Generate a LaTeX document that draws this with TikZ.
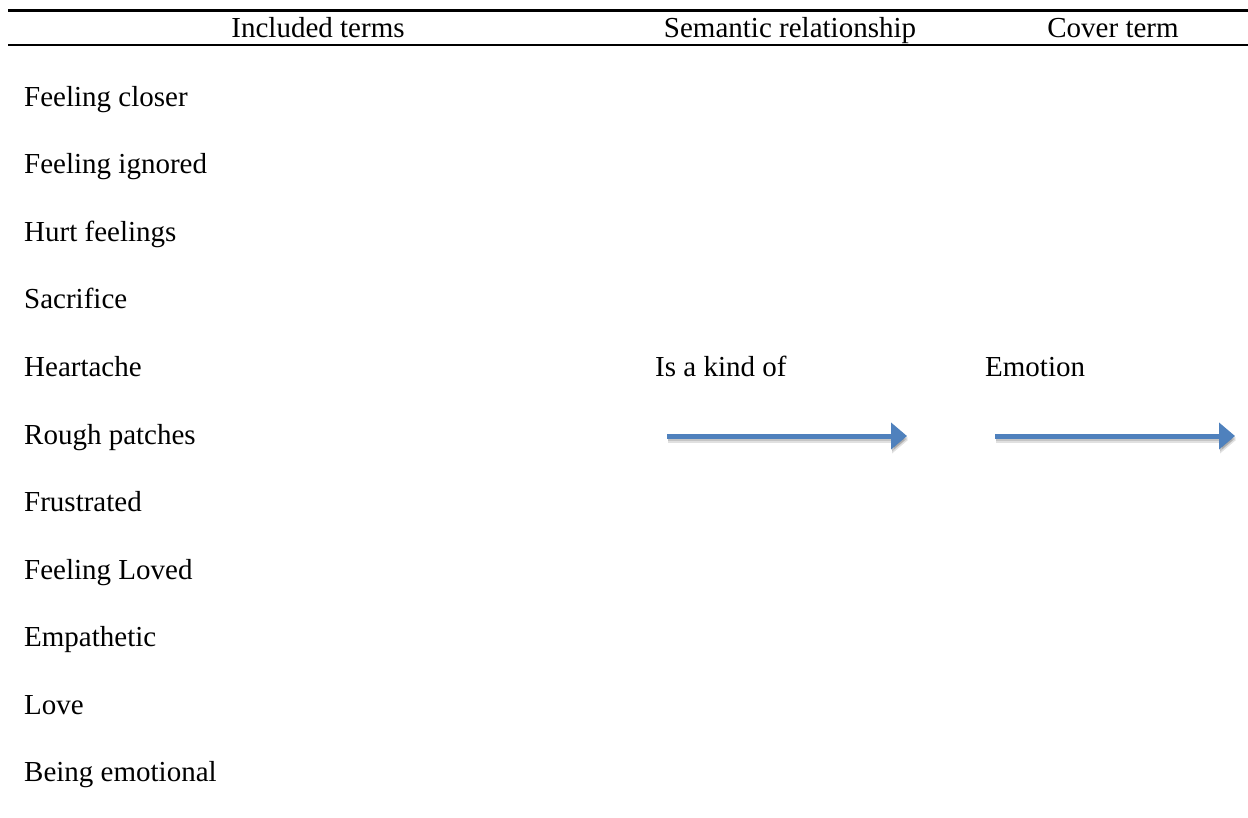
\documentclass[tikz,border=0pt]{standalone}
\usepackage{fontspec}
\setmainfont{Liberation Serif}
\usetikzlibrary{arrows.meta}
\definecolor{arrowblue}{HTML}{4F81BD}
\tikzset{
  term/.style={anchor=base west, inner sep=0pt, font=\fontsize{29}{35}\selectfont},
  head/.style={anchor=base, inner sep=0pt, font=\fontsize{29}{35}\selectfont},
  rule/.style={line width=2.6pt, black},
  bluearrow/.style={line width=5pt, arrowblue, -{Triangle[width=26pt,length=16pt]}},
  shadowarrow/.style={line width=5pt, black, opacity=0.12, -{Triangle[width=26pt,length=16pt]}}
}
\begin{document}
\begin{tikzpicture}[x=1pt,y=-1pt]
\useasboundingbox (0,0) rectangle (1248,818);
% rules
\draw[rule] (8,10.5) -- (1248,10.5);
\draw[rule] (8,45) -- (1248,45);
% headers
\node[head] (h1) at (318,37.5) {Included terms};
\node[head] (h2) at (790,37.5) {Semantic relationship};
\node[head] (h3) at (1113,37.5) {Cover term};
% terms
\foreach \t [count=\i from 0] in {Feeling closer,Feeling ignored,Hurt feelings,Sacrifice,Heartache,Rough patches,Frustrated,Feeling Loved,Empathetic,Love,Being emotional}{
  \node[term] (t\i) at (24,{106.5+67.5*\i}) {\t};
}
\node[term] (rel) at (655,376.5) {Is a kind of};
\node[term] (emo) at (985,376.5) {Emotion};
% arrows
\coordinate (a1s) at (667,436);
\coordinate (a1e) at (907,436);
\coordinate (a2s) at (995,436);
\coordinate (a2e) at (1235,436);
\foreach \d in {2,4}{
  \draw[shadowarrow] ([shift={(1,\d)}]a1s) -- ([shift={(1,\d)}]a1e);
  \draw[shadowarrow] ([shift={(1,\d)}]a2s) -- ([shift={(1,\d)}]a2e);
}
\draw[bluearrow] (a1s) -- (a1e);
\draw[bluearrow] (a2s) -- (a2e);
\end{tikzpicture}
\end{document}
